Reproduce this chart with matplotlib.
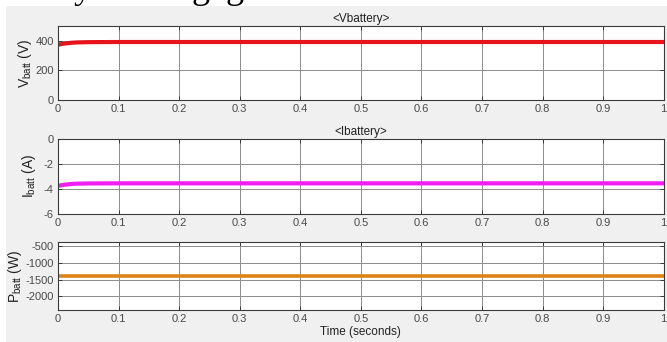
import matplotlib
matplotlib.use("Agg")
import matplotlib.pyplot as plt
from matplotlib.patches import Rectangle

plt.rcParams.update({"font.family": "Liberation Sans", "font.size": 8,
                     "axes.unicode_minus": False,
                     "mathtext.fontset": "custom",
                     "mathtext.rm": "Liberation Sans",
                     "mathtext.it": "Liberation Sans"})

# values
t_v = [0.0, 0.01, 0.02, 0.03, 0.05, 0.1, 1.0]
v_batt = [375, 382, 387, 390, 392, 393, 393]
t_i = [0.0, 0.01, 0.02, 0.03, 0.05, 0.1, 1.0]
i_batt = [-3.76, -3.68, -3.62, -3.59, -3.57, -3.56, -3.56]
t_p = [0.0, 1.0]
p_batt = [-1390, -1390]

x_ticks = [0, 0.1, 0.2, 0.3, 0.4, 0.5, 0.6, 0.7, 0.8, 0.9, 1]
x_labels = ["0", "0.1", "0.2", "0.3", "0.4", "0.5", "0.6", "0.7", "0.8", "0.9", "1"]
v_ticks = [0, 200, 400]
i_ticks = [-6, -4, -2, 0]
p_ticks = [-2000, -1500, -1000, -500]

W, H = 667, 342
fig = plt.figure(figsize=(W / 100, H / 100), dpi=100)
fig.patch.set_facecolor("white")
# grey scope window, drawn over the cropped page text above it
fig.patches.append(Rectangle((6 / W, 0), 1, (H - 6) / H, transform=fig.transFigure,
                             facecolor="#f0f0f0", edgecolor="none", zorder=-1))
# descenders of the document text cut off at the top
for x, ch in ((74, "y"), (192, "g"), (226, "g")):
    fig.text(x / W, (H + 2.0) / H, ch, family="Liberation Serif", fontsize=26,
             va="baseline", ha="left", color="black", zorder=-5)


def box(top, bottom, left=58, right=663.7):
    return [left / W, (H - bottom) / H, (right - left) / W, (bottom - top) / H]


def style(ax, yticks, ylim):
    ax.set_facecolor("white")
    ax.set_xlim(0, 1)
    ax.set_ylim(*ylim)
    ax.set_xticks(x_ticks)
    ax.set_xticklabels(x_labels)
    ax.set_yticks(yticks)
    ax.grid(True, color="#8c8c8c", lw=0.7)
    ax.set_axisbelow(True)
    ax.tick_params(direction="in", top=True, right=True, length=3, width=0.7,
                   colors="#3a3a3a", labelcolor="#4a4a4a", labelsize=8, pad=3)
    for s in ax.spines.values():
        s.set_color("#3a3a3a")
        s.set_linewidth(0.8)


ax1 = fig.add_axes(box(26.3, 99.7))
ax2 = fig.add_axes(box(139, 213.7))
ax3 = fig.add_axes(box(242.3, 310))

ax1.plot(t_v, v_batt, color="#e8141b", lw=3.0)
style(ax1, v_ticks, (0, 500))
ax1.set_title("<Vbattery>", fontsize=8.5, pad=3, color="#222222")
ax1.set_ylabel(r"V$_{\rm batt}$ (V)", fontsize=10, labelpad=1, color="#222222")

ax2.plot(t_i, i_batt, color="#f01ef0", lw=3.0)
style(ax2, i_ticks, (-6, 0))
ax2.set_title("<Ibattery>", fontsize=8.5, pad=3, color="#222222")
ax2.set_ylabel(r"I$_{\rm batt}$ (A)", fontsize=10, labelpad=4, color="#222222")

ax3.plot(t_p, p_batt, color="#dd8318", lw=2.6)
style(ax3, p_ticks, (-2400, -400))
ax3.set_ylabel(r"P$_{\rm batt}$ (W)", fontsize=10, labelpad=1, color="#222222")
ax3.set_xlabel("Time (seconds)", fontsize=8.5, labelpad=1, color="#222222")

fig.savefig("out.png", dpi=100)
